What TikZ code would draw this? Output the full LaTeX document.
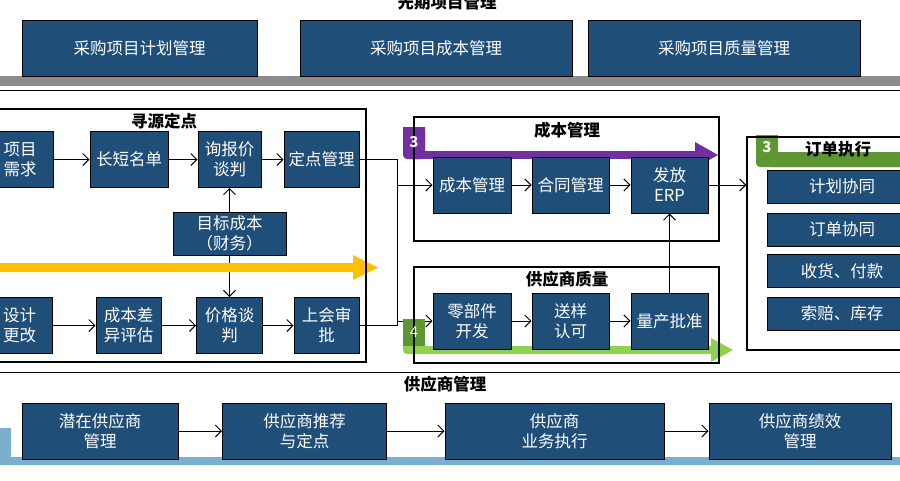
\documentclass[tikz,border=0pt]{standalone}
\usepackage{fontspec}
\setmainfont{Noto Sans CJK SC}
\usetikzlibrary{arrows.meta}
\definecolor{boxblue}{HTML}{1F4E79}
\definecolor{barpurple}{HTML}{7030A0}
\definecolor{bargreen}{HTML}{92D050}
\definecolor{tabgreen}{HTML}{5E9732}
\definecolor{baryellow}{HTML}{FFC000}
\definecolor{barblue}{HTML}{7AAFCF}
\definecolor{bargray}{HTML}{8C8C8C}
\pgfdeclarelayer{lines}
\pgfdeclarelayer{bands}
\pgfsetlayers{lines,bands,main}
\begin{document}
\begin{tikzpicture}[x=1pt, y=-1pt,
  blk/.style={draw=black, line width=1pt, fill=boxblue, text=white, align=center, inner sep=0pt, font=\fontsize{16.5}{20}\selectfont},
  proc/.style={blk, minimum height=56pt},
  slim/.style={blk, minimum width=150pt, minimum height=33pt},
  frame/.style={draw=black, line width=1.2pt},
  heading/.style={inner sep=0pt, font=\bfseries\fontsize{16.5}{20}\selectfont},
  badge/.style={inner sep=0pt, text=white, font=\bfseries\fontsize{15}{17}\selectfont},
  arr/.style={-{Straight Barb[length=6pt,width=12pt]}, line width=1pt},
  link/.style={line width=1pt}
]
\useasboundingbox (0,0) rectangle (900,480);

% top: project planning
\node[heading] (ttop) at (447,2) {先期项目管理};
\node[proc, minimum width=235pt] (plan) at (139.5,48) {采购项目计划管理};
\node[proc, minimum width=272pt] (cost) at (436,48) {采购项目成本管理};
\node[proc, minimum width=272pt] (qual) at (724,48) {采购项目质量管理};
\draw[line width=1.5pt] (0,90.5) -- (900,90.5);
\draw[line width=1.5pt] (0,372.5) -- (900,372.5);

% sourcing
\draw[frame] (-5,109) rectangle (366,362);
\node[heading] (tsrc) at (164,121) {寻源定点};
\node[proc, minimum width=66pt] (need) at (20,159.5) {项目\\需求};
\node[proc, minimum width=78pt] (list) at (129,159.5) {长短名单};
\node[proc, minimum width=63pt] (quote) at (229.5,159.5) {询报价\\谈判};
\node[proc, minimum width=75pt] (fix) at (321.5,159.5) {定点管理};
\node[blk, minimum width=113pt, minimum height=43pt] (target) at (229.5,233.5) {目标成本\\（财务）};
\node[proc, minimum width=65pt] (change) at (19.5,325.5) {设计\\更改};
\node[proc, minimum width=65pt] (diff) at (128.5,325.5) {成本差\\异评估};
\node[proc, minimum width=66pt] (price) at (229.5,325.5) {价格谈\\判};
\node[proc, minimum width=65pt] (board) at (326.5,325.5) {上会审\\批};

% cost management
\draw[frame] (414,117) rectangle (719,241);
\node[heading] (tcost) at (567,130) {成本管理};
\node[proc, minimum width=78pt] (cman) at (472,185) {成本管理};
\node[proc, minimum width=77pt] (contract) at (570.5,185) {合同管理};
\node[proc, minimum width=77pt] (erp) at (669.5,185) {发放\\ERP};
\node[badge] (n3a) at (414,142) {3};

% supplier quality
\draw[frame] (414,267) rectangle (719,363);
\node[heading] (tsq) at (567,279) {供应商质量};
\node[proc, minimum width=78pt] (part) at (472,321) {零部件\\开发};
\node[proc, minimum width=77pt] (sample) at (570.5,321) {送样\\认可};
\node[proc, minimum width=77pt] (mass) at (669.5,321) {量产批准};
\node[badge, font=\fontsize{15}{17}\selectfont] (n4) at (414,332.5) {4};

% order execution
\node[frame, minimum width=170pt, minimum height=213pt, inner sep=0pt] (order) at (832,243.5) {};
\node[heading] (tord) at (838,149) {订单执行};
\node[badge] (n3b) at (767,147) {3};
\node[slim] (oplan) at (842,186.5) {计划协同};
\node[slim] (ocoop) at (842,229.5) {订单协同};
\node[slim] (orecv) at (842,271) {收货、付款};
\node[slim] (oclaim) at (842,313.5) {索赔、库存};

% supplier management
\node[heading] (tsup) at (445,384) {供应商管理};
\node[proc, minimum width=156pt] (pot) at (100,431) {潜在供应商\\管理};
\node[proc, minimum width=164pt] (rec) at (304.5,431) {供应商推荐\\与定点};
\node[proc, minimum width=219pt] (exe) at (554.5,431) {供应商\\业务执行};
\node[proc, minimum width=182pt] (perf) at (800,431) {供应商绩效\\管理};

% bands
\begin{pgfonlayer}{bands}
\fill[bargray] (0,76) rectangle (900,86);
\fill[baryellow] (0,263) -- (353,263) -- (353,255) -- (378,267.5) -- (353,280) -- (353,272) -- (0,272) -- cycle;
\fill[barpurple, rounded corners=4pt] (403,127) rectangle (425,159);
\fill[barpurple] (403,127) rectangle (414,145) (414,127) rectangle (425,159);
\fill[barpurple] (420,151) rectangle (695,159);
\fill[barpurple] (695,142) -- (718,155) -- (695,168) -- cycle;
\fill[bargreen, rounded corners=4pt] (403,340) rectangle (425,354);
\fill[bargreen] (414,346) rectangle (711,354);
\fill[bargreen] (711,338) -- (733,350) -- (711,362) -- cycle;
\fill[tabgreen] (403,319) rectangle (425,346);
\fill[tabgreen, rounded corners=4pt] (756,152) rectangle (915,167);
\fill[tabgreen] (756,135) rectangle (778,160) (770,159) rectangle (915,167);
\fill[barblue] (0,457) rectangle (900,465);
\fill[barblue] (0,428) rectangle (11,457);
\end{pgfonlayer}

% connectors
\begin{pgfonlayer}{lines}
\coordinate (bus) at (397,325.5);
\draw[arr] (need) -- (list);
\draw[arr] (list) -- (quote);
\draw[arr] (quote) -- (fix);
\draw[arr] (target) -- (quote);
\draw[arr] (target) -- (price);
\draw[arr] (change) -- (diff);
\draw[arr] (diff) -- (price);
\draw[arr] (price) -- (board);
\draw[link] (fix.east) -| (bus) -- (board.east);
\draw[arr] (bus |- cman.west) -- (cman.west);
\draw[arr] (bus |- part.west) -- (part.west);
\draw[arr] (cman) -- (contract);
\draw[arr] (contract) -- (erp);
\draw[arr] (erp.east) -- (order.west |- erp.east);
\draw[arr] (part) -- (sample);
\draw[arr] (sample) -- (mass);
\draw[arr] (mass) -- (erp);
\draw[arr] (pot) -- (rec);
\draw[arr] (rec) -- (exe);
\draw[arr] (exe) -- (perf);
\end{pgfonlayer}
\end{tikzpicture}
\end{document}
